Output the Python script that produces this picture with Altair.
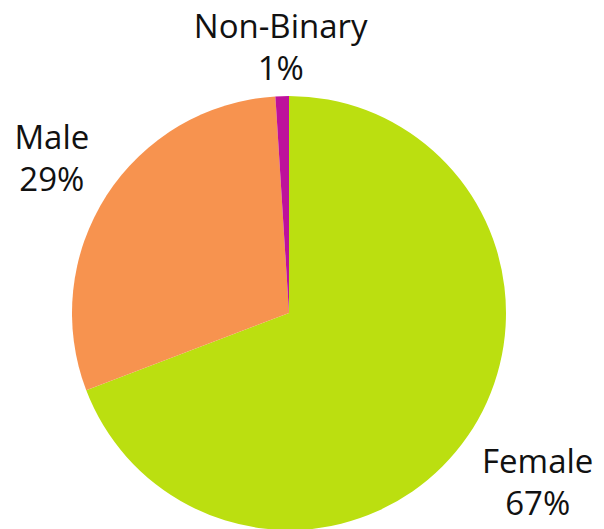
import altair as alt
import pandas as pd

genders = ["Female", "Male", "Non-Binary"]
shares = [69.2, 29.8, 1.0]
labels = ["Female\n67%", "Male\n29%", "Non-Binary\n1%"]
colors = ["#bbdf10", "#f7934f", "#be119b"]

df = pd.DataFrame({"gender": genders, "share": shares, "label": labels})

CX, CY, R = 281, 305, 217
FONT = "Open Sans"
LH = 42

base = alt.Chart(df)

pie = base.mark_arc(radius=R, stroke=None).encode(
    x=alt.value(CX),
    y=alt.value(CY),
    theta=alt.Theta("share:Q", stack=True, scale=alt.Scale(domain=[0, 100])),
    color=alt.Color("gender:N", scale=alt.Scale(domain=genders, range=colors), legend=None),
    order=alt.Order("gender:N", sort="ascending"),
)

def label_layer(name, radius):
    return base.transform_window(
        cum="sum(share)", sort=[alt.SortField("gender", order="ascending")],
        frame=[None, 0]
    ).transform_calculate(
        mid="datum.cum - datum.share / 2"
    ).transform_filter(
        alt.datum.gender == name
    ).mark_text(
        radius=radius, font=FONT, fontSize=33, lineBreak="\n", lineHeight=LH,
        color="#111111", align="center", baseline="middle", dy=-LH / 2
    ).encode(
        x=alt.value(CX),
        y=alt.value(CY),
        theta=alt.Theta("mid:Q", stack=None, scale=alt.Scale(domain=[0, 100])),
        text="label:N",
    )

chart = alt.layer(
    pie,
    label_layer("Female", 302),
    label_layer("Male", 282),
    label_layer("Non-Binary", 264),
).resolve_scale(theta="independent").properties(
    width=586, height=511, padding=0
).configure_view(stroke=None)

chart.save("out.html", embed_options={"renderer": "svg", "actions": False})
